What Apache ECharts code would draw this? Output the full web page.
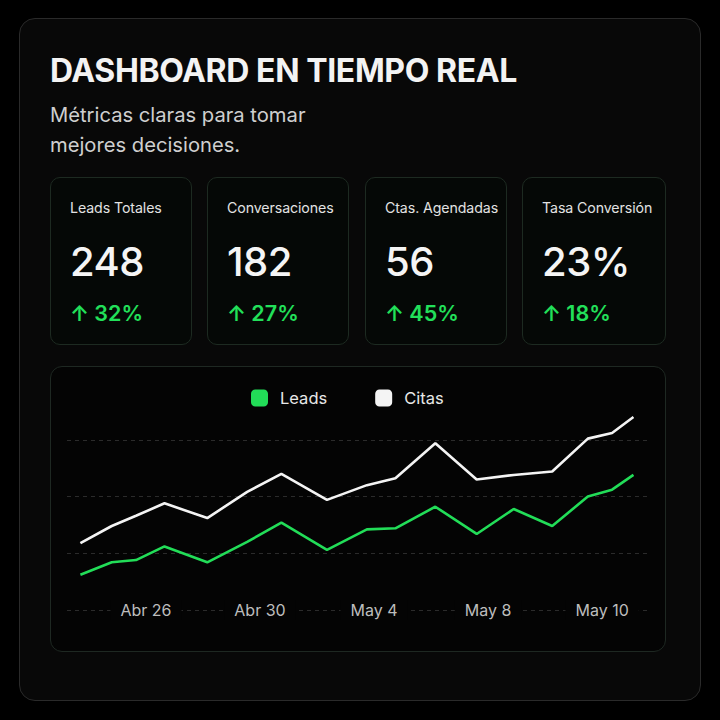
<!DOCTYPE html>
<html>
<head>
<meta charset="utf-8">
<script src="https://cdn.jsdelivr.net/npm/echarts@6/dist/echarts.min.js"></script>
<style>
  html, body { margin: 0; padding: 0; background: #000; }
  body { width: 720px; height: 720px; position: relative; overflow: hidden; font-family: Inter, "Noto Sans", sans-serif; }
  .panel { position: absolute; left: 19px; top: 18px; width: 682px; height: 683px; border: 1px solid #2a2a2a; border-radius: 16px; background: #080808; box-sizing: border-box; }
  .title { position: absolute; left: 50px; top: 55px; font-size: 32px; line-height: 32px; font-weight: 700; color: #f3f3f3; white-space: nowrap; letter-spacing: -0.4px; }
  .sub { position: absolute; left: 50px; top: 100px; font-size: 20.2px; line-height: 30px; color: #cfcfcf; }
  .card { position: absolute; top: 177px; width: 142px; height: 168px; border: 1px solid #1d2a21; border-radius: 10px; background: #050806; box-sizing: border-box; }
  .card .lab { position: absolute; left: 19px; top: 23px; font-size: 14.2px; line-height: 14px; color: #e2e2e2; white-space: nowrap; letter-spacing: -0.1px; }
  .card .val { position: absolute; left: 19px; top: 64px; font-size: 40px; line-height: 40px; font-weight: 500; color: #f5f5f5; letter-spacing: -0.5px; }
  .card .chg { position: absolute; left: 19px; top: 124px; font-size: 21.5px; line-height: 22px; font-weight: 600; color: #22e05a; white-space: nowrap; }
  .chartbox { position: absolute; left: 50px; top: 366px; width: 616px; height: 286px; border: 1px solid #1e2822; border-radius: 12px; background: #040404; box-sizing: border-box; }
  #chart { position: absolute; left: 0; top: 0; width: 720px; height: 720px; }
</style>
</head>
<body>
<div class="panel"></div>
<div class="title">DASHBOARD EN TIEMPO REAL</div>
<div class="sub">Métricas claras para tomar<br>mejores decisiones.</div>
<div id="cards"></div>
<div class="chartbox"></div>
<div id="chart"></div>
<script>
// KPI cards
const kpiLabels = ["Leads Totales", "Conversaciones", "Ctas. Agendadas", "Tasa Conversión"];
const kpiValues = ["248", "182", "56", "23%"];
const kpiChanges = ["32%", "27%", "45%", "18%"];

// Line chart data (x = days relative to Abr 26 tick)
const xDays = [-2.3, -1.2, -0.35, 0.65, 2.15, 3.55, 4.75, 6.35, 7.75, 8.75, 10.15, 11.6, 12.9, 14.25, 15.5, 16.35, 17.1];
const leads = [31, 42, 44, 56, 42, 60, 77, 53, 71, 72, 91, 67, 89, 74, 100, 106, 119];
const citas = [59, 74, 83, 94, 81, 104, 120, 97, 110, 116, 147, 115, 119, 122, 151, 156, 170];
const tickValues = [0, 4, 8, 12, 16];
const tickLabels = ["Abr 26", "Abr 30", "May 4", "May 8", "May 10"];
const seriesNames = ["Leads", "Citas"];

// build cards
const cardLefts = [50, 207, 365, 522];
const cardsEl = document.getElementById('cards');
kpiLabels.forEach((l, i) => {
  const c = document.createElement('div');
  c.className = 'card';
  c.style.left = cardLefts[i] + 'px';
  c.style.width = (i === 3 ? 144 : 142) + 'px';
  c.innerHTML = '<div class="lab"></div><div class="val"></div><div class="chg"></div>';
  c.querySelector('.lab').textContent = l;
  c.querySelector('.val').textContent = kpiValues[i];
  c.querySelector('.chg').textContent = '\u2191 ' + kpiChanges[i];
  cardsEl.appendChild(c);
});

const chart = echarts.init(document.getElementById('chart'), null, { renderer: 'svg' });
const green = '#22dd58';
const white = '#f4f4f4';
const pair = (xs, ys) => xs.map((x, i) => [x, ys[i]]);
chart.setOption({
  animation: false,
  backgroundColor: 'transparent',
  legend: {
    left: 251, top: 389.5, padding: 0,
    itemWidth: 17, itemHeight: 17, itemGap: 48,
    icon: 'roundRect',
    textStyle: { color: '#e8e8e8', fontSize: 16.5, fontFamily: 'Inter', padding: [0, 0, 0, 7], lineHeight: 17 },
    data: seriesNames
  },
  grid: { left: 67, right: 72, top: 383, bottom: 110 },
  xAxis: {
    type: 'value', min: -2.77, max: 17.61,
    axisLine: { show: false }, axisTick: { show: false }, splitLine: { show: false },
    axisLabel: {
      customValues: tickValues,
      formatter: v => { const k = tickValues.indexOf(v); return k >= 0 ? tickLabels[k] : ''; },
      color: '#bdbdbd', fontSize: 16, fontFamily: 'Inter',
      verticalAlign: 'middle', margin: 0,
      backgroundColor: '#040404', padding: [2, 10]
    }
  },
  yAxis: {
    type: 'value', min: 0, max: 200, interval: 50,
    axisLine: { show: false }, axisTick: { show: false }, axisLabel: { show: false },
    splitLine: {
      show: true, showMaxLine: false,
      lineStyle: { color: ['#2b2b2b', '#2b2b2b', '#2b2b2b', '#2b2b2b', 'rgba(0,0,0,0)'], type: [4, 4], width: 1 }
    }
  },
  series: [
    { name: seriesNames[0], type: 'line', data: pair(xDays, leads), symbol: 'none', color: green, lineStyle: { color: green, width: 2.6 }, z: 3 },
    { name: seriesNames[1], type: 'line', data: pair(xDays, citas), symbol: 'none', color: white, lineStyle: { color: white, width: 2.6 }, z: 2 }
  ]
});
</script>
</body>
</html>
